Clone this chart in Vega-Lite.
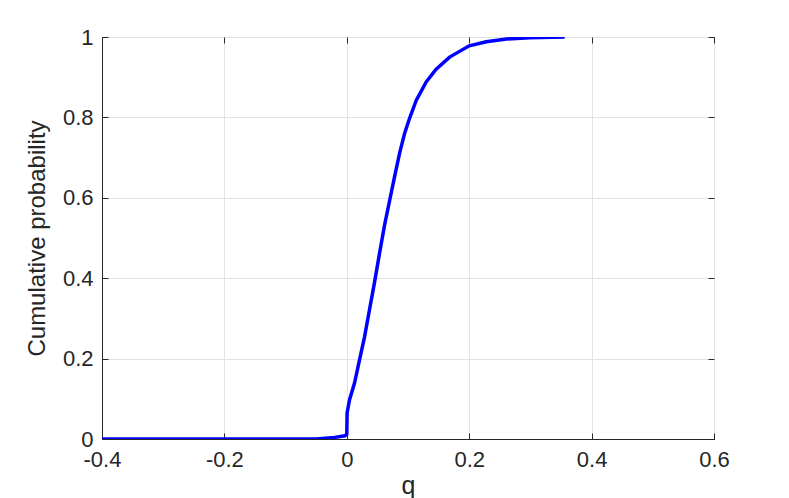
{
  "$schema": "https://vega.github.io/schema/vega-lite/v6.json",
  "width": 612,
  "height": 402,
  "autosize": {"type": "none"},
  "padding": {"left": 102, "top": 37, "right": 75, "bottom": 59},
  "background": "white",
  "config": {
    "view": {"stroke": "#262626", "strokeWidth": 1},
    "font": "Liberation Sans",
    "axis": {
      "labelFont": "Liberation Sans",
      "titleFont": "Liberation Sans",
      "labelFontSize": 22,
      "labelColor": "#262626",
      "titleColor": "#262626",
      "titleFontWeight": "normal",
      "domainColor": "#262626",
      "tickColor": "#262626",
      "gridColor": "#e3e3e3",
      "gridOpacity": 1,
      "tickSize": -6
    }
  },
  "data": {
    "values": [
      {"q": -0.4, "p": 0},
      {"q": -0.05, "p": 0},
      {"q": -0.02, "p": 0.004},
      {"q": -0.003, "p": 0.008},
      {"q": 0, "p": 0.012},
      {"q": 0.0005, "p": 0.065},
      {"q": 0.0044, "p": 0.097},
      {"q": 0.0126, "p": 0.139},
      {"q": 0.0208, "p": 0.197},
      {"q": 0.029, "p": 0.254},
      {"q": 0.037, "p": 0.321},
      {"q": 0.045, "p": 0.387},
      {"q": 0.0535, "p": 0.462},
      {"q": 0.0617, "p": 0.532},
      {"q": 0.0705, "p": 0.597},
      {"q": 0.078, "p": 0.652},
      {"q": 0.0863, "p": 0.711},
      {"q": 0.0944, "p": 0.76},
      {"q": 0.1026, "p": 0.798},
      {"q": 0.1136, "p": 0.843},
      {"q": 0.13, "p": 0.889},
      {"q": 0.146, "p": 0.92},
      {"q": 0.168, "p": 0.95},
      {"q": 0.2, "p": 0.978},
      {"q": 0.228, "p": 0.988},
      {"q": 0.261, "p": 0.995},
      {"q": 0.299, "p": 0.998},
      {"q": 0.356, "p": 1.0}
    ]
  },
  "layer": [
    {
      "mark": {"type": "line", "color": "#0000ff", "strokeWidth": 3.5, "clip": true},
      "encoding": {
        "x": {
          "field": "q",
          "type": "quantitative",
          "scale": {"domain": [-0.4, 0.6], "nice": false, "zero": false},
          "axis": {
            "values": [-0.4, -0.2, 0, 0.2, 0.4, 0.6],
            "format": "~g",
            "labelExpr": "replace(datum.label, '−', '-')",
            "title": "q",
            "titleFontSize": 25,
            "titlePadding": 3,
            "labelPadding": 16,
            "labelFlush": false
          }
        },
        "y": {
          "field": "p",
          "type": "quantitative",
          "scale": {"domain": [0, 1], "nice": false},
          "axis": {
            "values": [0, 0.2, 0.4, 0.6, 0.8, 1],
            "format": "~g",
            "title": "Cumulative probability",
            "titleFontSize": 24,
            "titlePadding": 13,
            "labelPadding": 15,
            "labelFlush": false
          }
        }
      }
    },
    {
      "mark": {"type": "line", "opacity": 0},
      "encoding": {
        "x": {
          "field": "q",
          "type": "quantitative",
          "scale": {"domain": [-0.4, 0.6], "nice": false, "zero": false},
          "axis": {
            "orient": "top",
            "values": [-0.4, -0.2, 0, 0.2, 0.4, 0.6],
            "labels": false,
            "grid": false,
            "domain": false,
            "title": null
          }
        },
        "y": {
          "field": "p",
          "type": "quantitative",
          "scale": {"domain": [0, 1], "nice": false},
          "axis": {
            "orient": "right",
            "values": [0, 0.2, 0.4, 0.6, 0.8, 1],
            "labels": false,
            "grid": false,
            "domain": false,
            "title": null
          }
        }
      }
    }
  ],
  "resolve": {"axis": {"x": "independent", "y": "independent"}}
}
